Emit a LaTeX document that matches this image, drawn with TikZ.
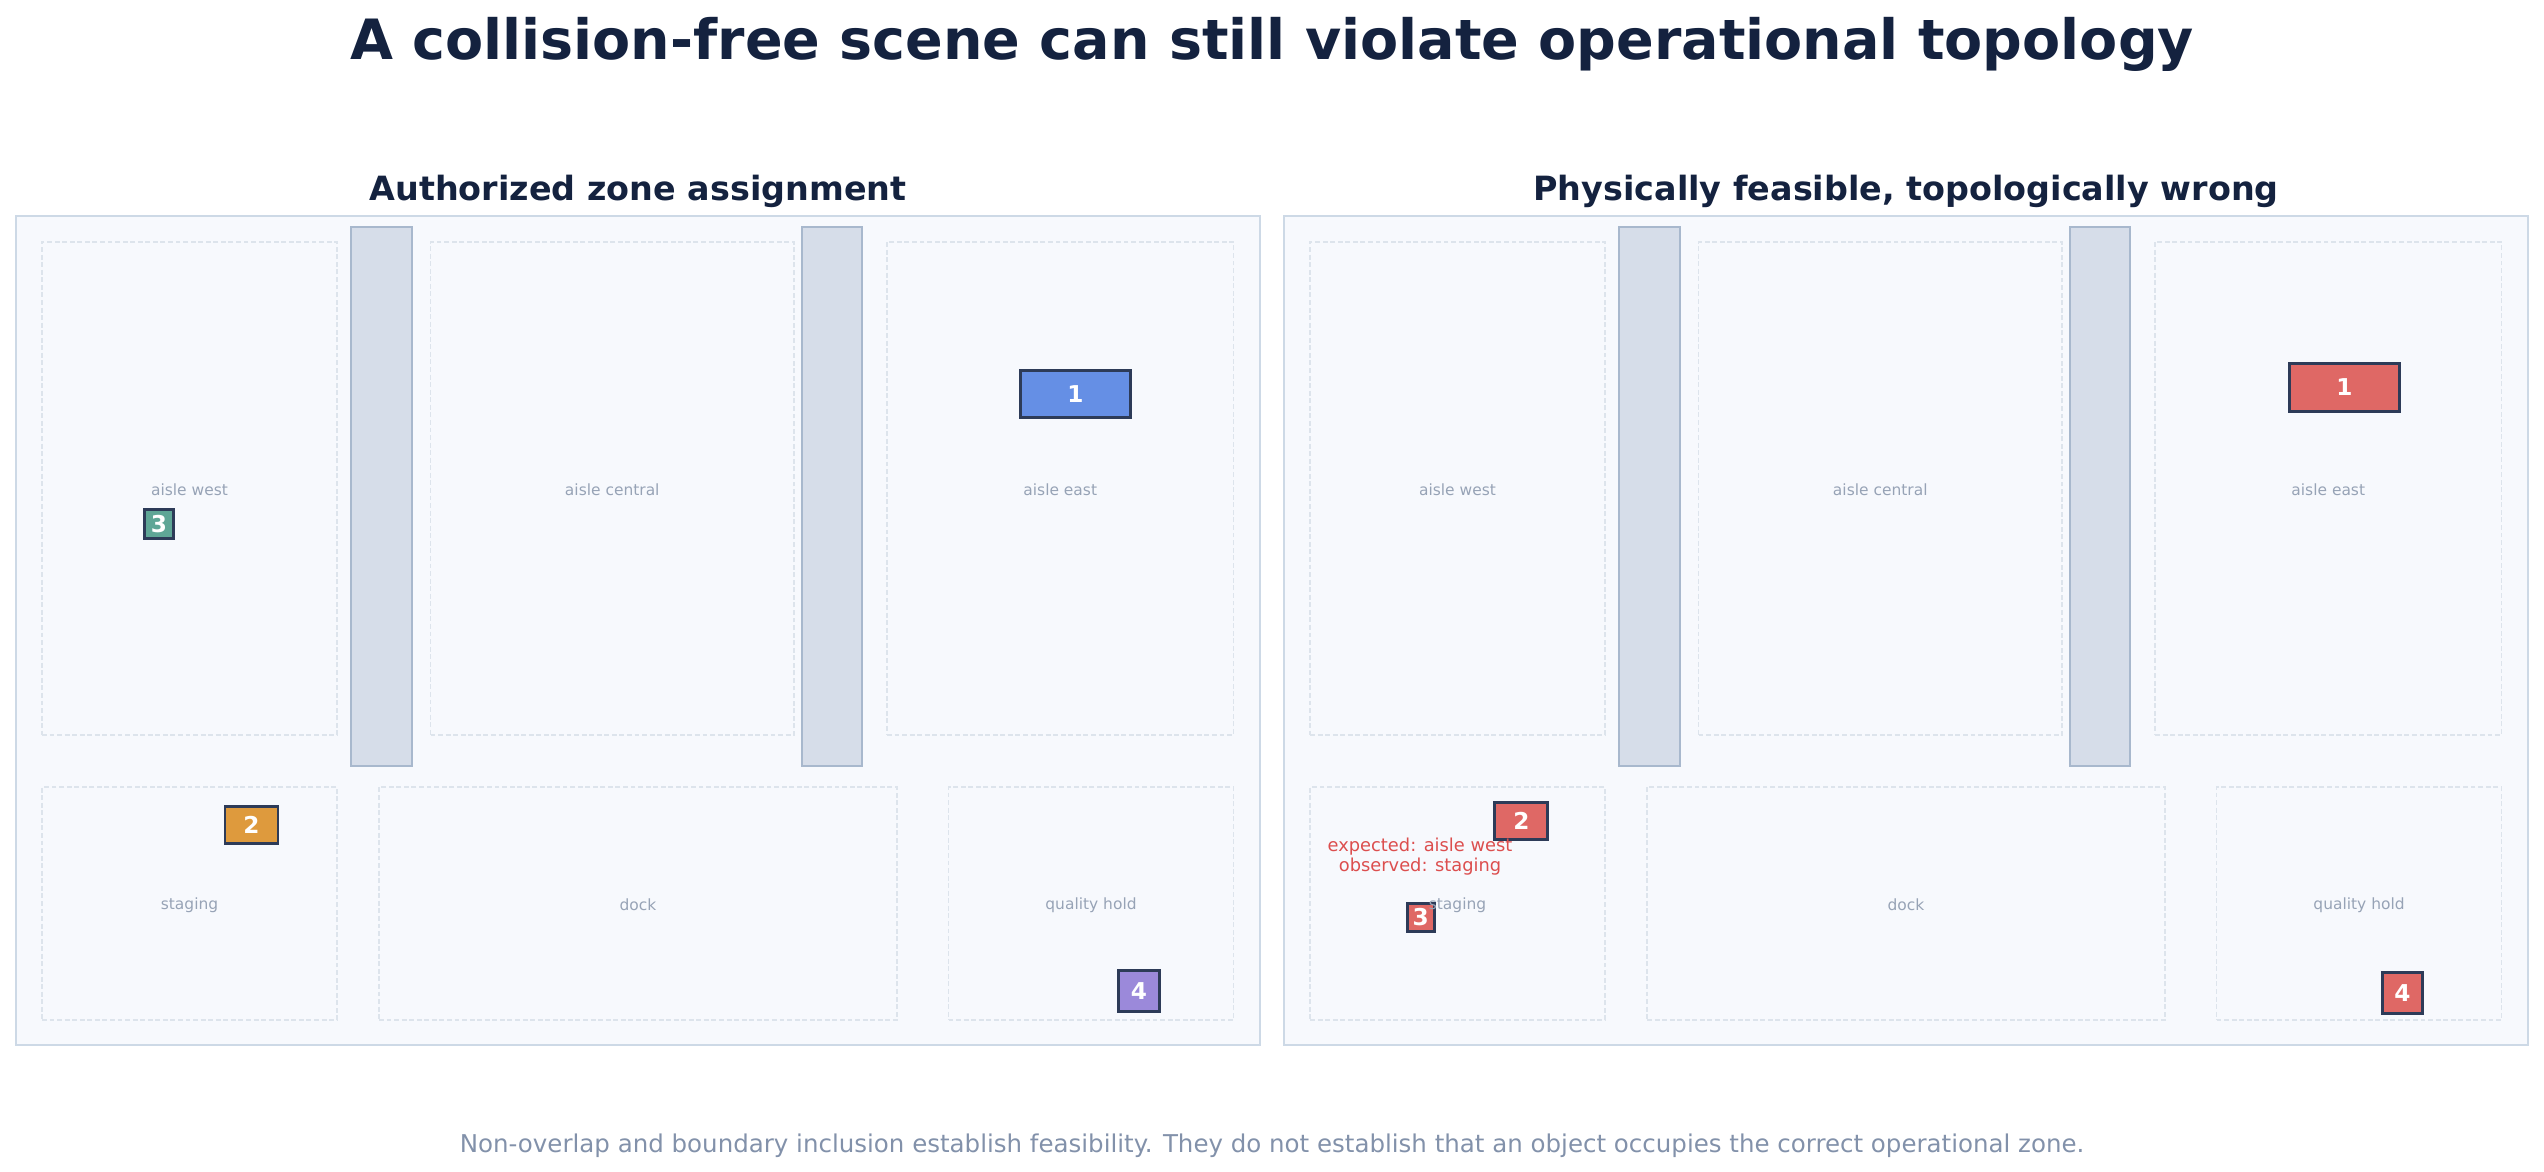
\documentclass[tikz,border=0pt]{standalone}
\usepackage{fontspec}
\setmainfont{DejaVu Sans}

\definecolor{titlecol}{HTML}{14223F}
\definecolor{panelfill}{HTML}{F7F9FD}
\definecolor{panelline}{HTML}{CDD9E6}
\definecolor{wallfill}{HTML}{D6DDE9}
\definecolor{wallline}{HTML}{A8B8CD}
\definecolor{zoneline}{HTML}{DDE4EC}
\definecolor{zonetext}{HTML}{97A3B6}
\definecolor{objline}{HTML}{2D3B58}
\definecolor{objblue}{HTML}{658FE5}
\definecolor{objorange}{HTML}{DE9A3D}
\definecolor{objteal}{HTML}{5FA696}
\definecolor{objpurple}{HTML}{9B89DA}
\definecolor{objred}{HTML}{DF6865}
\definecolor{notecol}{HTML}{DC4E4E}
\definecolor{footcol}{HTML}{8291AA}

\tikzset{
  panel/.style={rectangle, draw=panelline, fill=panelfill, line width=0.6pt, minimum width=12.44cm, minimum height=8.29cm},
  wall/.style={rectangle, draw=wallline, fill=wallfill, line width=0.55pt, minimum height=5.39cm},
  zone/.style={rectangle, draw=zoneline, dash pattern=on 1.4pt off 0.75pt, line width=0.45pt},
  zonelabel/.style={text=zonetext, font=\fontsize{4.4}{5}\selectfont, yshift=-0.015cm},
  obj/.style={rectangle, draw=objline, line width=0.85pt, inner sep=0pt, text=white, font=\bfseries\fontsize{6.6}{7}\selectfont},
  heading/.style={anchor=base, text=titlecol, font=\bfseries\fontsize{9.5}{11}\selectfont}
}

\begin{document}
\begin{tikzpicture}[y=-1cm]
  \useasboundingbox (0,0) rectangle (25.44,11.71);
  % Header
  \node (title) [anchor=base, text=titlecol, font=\bfseries\fontsize{15.8}{18}\selectfont] at (12.72, 0.59) {A collision-free scene can still violate operational topology};
  % Panels
  \foreach \p/\dx/\head in {l/0/{Authorized zone assignment}, r/12.68/{Physically feasible, topologically wrong}} {
    \begin{scope}[xshift=\dx cm]
      \node (h-\p) [heading] at (6.38, 2.0) {\head};
      \node (p-\p) [panel] at (6.38, 6.305) {};
      \node (w1-\p) [wall, minimum width=0.61cm] at (3.815, 4.965) {};
      \node (w2-\p) [wall, minimum width=0.60cm] at (8.32, 4.965) {};
      \node (aw-\p) [zone, minimum width=2.95cm, minimum height=4.93cm] at (1.895, 4.885) {};
      \node (ac-\p) [zone, minimum width=3.635cm, minimum height=4.93cm] at (6.1225, 4.885) {};
      \node (ae-\p) [zone, minimum width=3.465cm, minimum height=4.93cm] at (10.6025, 4.885) {};
      \node (st-\p) [zone, minimum width=2.95cm, minimum height=2.33cm] at (1.895, 9.035) {};
      \node (dk-\p) [zone, minimum width=5.18cm, minimum height=2.33cm] at (6.38, 9.035) {};
      \node (qh-\p) [zone, minimum width=2.85cm, minimum height=2.33cm] at (10.91, 9.035) {};
    \end{scope}
  }
  % Objects, authorized
  \node (o1-l) [obj, fill=objblue, minimum width=1.10cm, minimum height=0.475cm] at (10.755, 3.94) {1};
  \node (o2-l) [obj, fill=objorange, minimum width=0.53cm, minimum height=0.365cm] at (2.515, 8.25) {2};
  \node (o3-l) [obj, fill=objteal, minimum width=0.285cm, minimum height=0.285cm] at (1.59, 5.24) {3};
  \node (o4-l) [obj, fill=objpurple, minimum width=0.41cm, minimum height=0.415cm] at (11.39, 9.91) {4};
  % Objects, observed
  \node (o1-r) [obj, fill=objred, minimum width=1.10cm, minimum height=0.48cm] at (23.444, 3.875) {1};
  \node (o2-r) [obj, fill=objred, minimum width=0.53cm, minimum height=0.37cm] at (15.214, 8.205) {2};
  \node (o3-r) [obj, fill=objred, minimum width=0.27cm, minimum height=0.28cm] at (14.207, 9.17) {3};
  \node (o4-r) [obj, fill=objred, minimum width=0.40cm, minimum height=0.41cm] at (24.025, 9.933) {4};
  % Zone labels
  \foreach \p in {l, r} {
    \node [zonelabel] at (aw-\p) {aisle west};
    \node [zonelabel] at (ac-\p) {aisle central};
    \node [zonelabel] at (ae-\p) {aisle east};
    \node [zonelabel] at (st-\p) {staging};
    \node [zonelabel] at (dk-\p) {dock};
    \node [zonelabel] at (qh-\p) {quality hold};
  }
  % Mismatch note
  \node (note) [align=center, text=notecol, font=\fontsize{5.07}{5.7}\selectfont] at (14.20, 8.57) {expected: aisle west\\observed: staging};
  % Footer
  \node (foot) [anchor=base, text=footcol, font=\fontsize{6.97}{8}\selectfont] at (12.72, 11.52) {Non-overlap and boundary inclusion establish feasibility. They do not establish that an object occupies the correct operational zone.};
\end{tikzpicture}
\end{document}
